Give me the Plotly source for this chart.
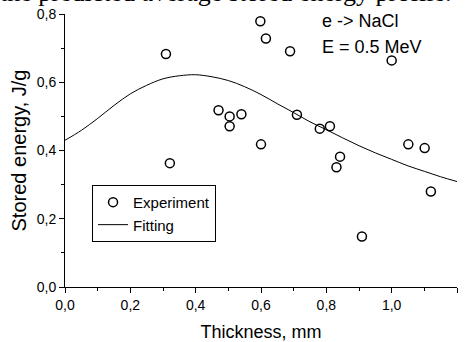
import plotly.graph_objects as go

# Experimental points (thickness mm, stored energy J/g)
exp_x = [0.309, 0.321, 0.470, 0.504, 0.504, 0.540, 0.598, 0.615, 0.600, 0.689,
         0.710, 0.780, 0.811, 0.842, 0.831, 0.909, 1.000, 1.051, 1.101, 1.120]
exp_y = [0.683, 0.363, 0.518, 0.500, 0.471, 0.506, 0.779, 0.728, 0.418, 0.691,
         0.505, 0.464, 0.471, 0.382, 0.351, 0.148, 0.664, 0.418, 0.407, 0.280]

# Fitting curve
fit_x = [0.00, 0.05, 0.10, 0.15, 0.20, 0.25, 0.30, 0.35, 0.40, 0.45, 0.50, 0.55,
         0.60, 0.65, 0.70, 0.75, 0.80, 0.85, 0.90, 0.95, 1.00, 1.05, 1.10, 1.15, 1.20]
fit_y = [0.430, 0.459, 0.494, 0.532, 0.566, 0.591, 0.610, 0.619, 0.622, 0.616,
         0.605, 0.587, 0.564, 0.537, 0.511, 0.484, 0.461, 0.437, 0.414, 0.393,
         0.374, 0.355, 0.339, 0.323, 0.309]

x_ticks = [0.0, 0.2, 0.4, 0.6, 0.8, 1.0, 1.2]
y_ticks = [0.0, 0.2, 0.4, 0.6, 0.8]

FONT = "Liberation Sans, Arial, sans-serif"

fig = go.Figure()
fig.add_trace(go.Scatter(
    x=exp_x, y=exp_y, mode="markers", name="Experiment",
    marker=dict(symbol="circle-open", size=9, color="black",
                line=dict(width=1.5, color="black")),
))
fig.add_trace(go.Scatter(
    x=fit_x, y=fit_y, mode="lines", name="Fitting",
    line=dict(color="black", width=1, shape="spline"),
))

axis_common = dict(
    showline=True, linecolor="black", linewidth=1, mirror=False,
    ticks="outside", ticklen=5, tickwidth=1, tickcolor="black",
    showgrid=False, zeroline=False, automargin=False,
    tickfont=dict(family=FONT, size=14, color="black"),
    tickformat=".1f",
    minor=dict(ticks="outside", ticklen=3, tickwidth=1, tickcolor="black", dtick=0.1),
)

fig.update_layout(
    width=466, height=342,
    margin=dict(l=65, r=9, t=14, b=55),
    paper_bgcolor="white", plot_bgcolor="white",
    separators=", ",
    font=dict(family=FONT, color="black"),
    xaxis=dict(range=[0, 1.2], tickvals=x_ticks,
               title=dict(text="Thickness, mm", font=dict(family=FONT, size=18), standoff=14),
               **axis_common),
    yaxis=dict(range=[0, 0.8], tickvals=y_ticks,
               title=dict(text="Stored energy, J/g", font=dict(family=FONT, size=20), standoff=4),
               **axis_common),
    showlegend=True,
    legend=dict(x=0.069, y=0.374, xanchor="left", yanchor="top",
                bgcolor="white", bordercolor="black", borderwidth=1,
                font=dict(family=FONT, size=15, color="black"),
                tracegroupgap=0, itemwidth=30),
    annotations=[
        dict(text="e -> NaCl", x=(320 - 65) / 392, y=(287 - 21) / 273,
             xref="paper", yref="paper", xanchor="left", yanchor="middle",
             showarrow=False, font=dict(family=FONT, size=18, color="black")),
        dict(text="E = 0.5 MeV", x=(320 - 65) / 392, y=(287 - 47) / 273,
             xref="paper", yref="paper", xanchor="left", yanchor="middle",
             showarrow=False, font=dict(family=FONT, size=18, color="black")),
        dict(text="the predicted average stored energy profile.",
             x=(453 - 65) / 392, y=(287 - (-8)) / 273,
             xref="paper", yref="paper", xanchor="right", yanchor="middle",
             showarrow=False,
             font=dict(family="Liberation Serif, Times New Roman, serif", size=26, color="black")),
    ],
)

fig.write_html("out.html",
               config={"displayModeBar": False},
               post_script="document.body.style.margin='0';document.body.style.overflow='hidden';")
